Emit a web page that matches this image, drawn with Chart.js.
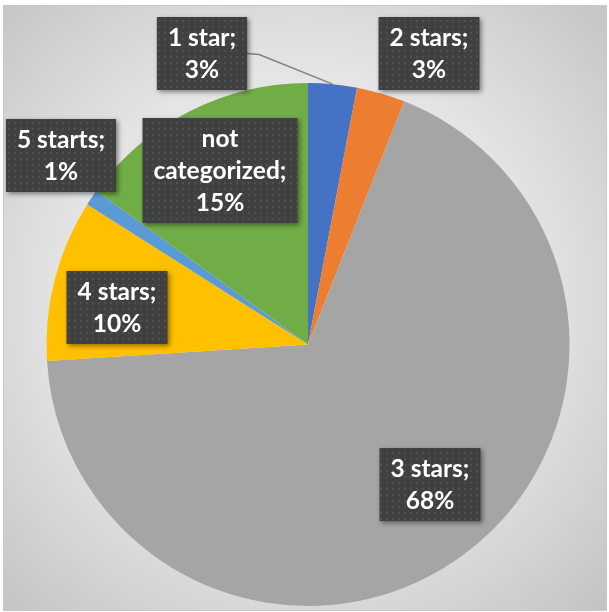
<!DOCTYPE html>
<html>
<head>
<meta charset="utf-8">
<script src="https://cdn.jsdelivr.net/npm/chart.js@4"></script>
<style>
  html, body { margin: 0; padding: 0; background: #ffffff; }
  #wrap { width: 609px; height: 612px; position: relative; }
</style>
</head>
<body>
<div id="wrap"><canvas id="ratingChart" width="609" height="612"></canvas></div>
<script>
// Hotel ratings share
const categories = ["1 star", "2 stars", "3 stars", "4 stars", "5 starts", "not categorized"];
const shares = [3, 3, 68, 10, 1, 15];
const sliceColors = ["#4472C4", "#ED7D31", "#A5A5A5", "#FFC000", "#5B9BD5", "#70AD47"];

// label box centres, relative to pie centre (px at radius 261.5)
const labelSpots = [[-106, -291], [121, -291], [122, 140], [-191, -37], [-247, -189], [-88, -174]];

// chart frame + radial background
const framePlugin = {
    id: "frame",
    beforeDraw(chart) {
        const ctx = chart.ctx;
        ctx.save();
        const g = ctx.createRadialGradient(300, 300, 0, 300, 300, 430);
        g.addColorStop(0, "#f4f4f4");
        g.addColorStop(0.55, "#e4e4e4");
        g.addColorStop(1, "#c4c4c4");
        ctx.fillStyle = g;
        ctx.fillRect(3, 5, 604, 606);
        ctx.strokeStyle = "#c8c8c8";
        ctx.lineWidth = 1;
        ctx.strokeRect(3.5, 5.5, 603, 605);
        ctx.restore();
    }
};

function dotPattern(ctx) {
    const c = document.createElement("canvas");
    c.width = 6; c.height = 6;
    const p = c.getContext("2d");
    p.fillStyle = "#404040";
    p.fillRect(0, 0, 6, 6);
    p.fillStyle = "#4f4f4f";
    p.fillRect(2, 2, 2, 2);
    return ctx.createPattern(c, "repeat");
}

// data labels in dark boxes
const labelPlugin = {
    id: "boxLabels",
    afterDatasetsDraw(chart) {
        const ctx = chart.ctx;
        const meta = chart.getDatasetMeta(0);
        const pattern = dotPattern(ctx);
        ctx.save();
        ctx.font = "bold 24.5px Lato";
        meta.data.forEach((arc, i) => {
            const p = arc.getProps(["x", "y", "startAngle", "endAngle", "outerRadius"], true);
            const k = p.outerRadius / 261.5;
            const cx = p.x + labelSpots[i][0] * k;
            const cy = p.y + labelSpots[i][1] * k;

            // wrap words
            const words = (categories[i] + ";").split(" ");
            let lines = [];
            let cur = "";
            words.forEach(w => {
                const test = cur ? cur + " " + w : w;
                if (cur && ctx.measureText(test).width > 150) {
                    lines.push(cur);
                    cur = w;
                } else {
                    cur = test;
                }
            });
            lines.push(cur);
            lines.push(shares[i] + "%");

            const lineH = 32;
            const tw = Math.max(...lines.map(l => ctx.measureText(l).width));
            const bw = tw + 22;
            const bh = lines.length * lineH + 9;
            const bx = cx - bw / 2;
            const by = cy - bh / 2;

            // leader line for the small first slice
            if (i === 0) {
                const mid = (p.startAngle + p.endAngle) / 2;
                ctx.strokeStyle = "#808080";
                ctx.lineWidth = 1.5;
                ctx.beginPath();
                ctx.moveTo(bx + bw, cy);
                ctx.lineTo(bx + bw + 12, cy + 1);
                ctx.lineTo(p.x + Math.cos(mid) * p.outerRadius, p.y + Math.sin(mid) * p.outerRadius);
                ctx.stroke();
            }

            ctx.shadowColor = "rgba(0,0,0,0.45)";
            ctx.shadowBlur = 5;
            ctx.shadowOffsetX = 2;
            ctx.shadowOffsetY = 2;
            ctx.fillStyle = pattern;
            ctx.fillRect(bx, by, bw, bh);
            ctx.shadowColor = "transparent";

            ctx.fillStyle = "#ffffff";
            ctx.textAlign = "center";
            ctx.textBaseline = "middle";
            lines.forEach((l, j) => {
                ctx.fillText(l, cx, by + 5 + lineH / 2 + j * lineH);
            });
        });
        ctx.restore();
    }
};

new Chart(document.getElementById("ratingChart"), {
    type: "pie",
    data: {
        labels: categories,
        datasets: [{
            data: shares,
            backgroundColor: sliceColors,
            borderWidth: 0
        }]
    },
    options: {
        responsive: false,
        animation: false,
        layout: {
            padding: { left: 46.5, right: 39.5, top: 83, bottom: 6 }
        },
        plugins: {
            legend: { display: false },
            tooltip: { enabled: false }
        }
    },
    plugins: [framePlugin, labelPlugin]
});
</script>
</body>
</html>
